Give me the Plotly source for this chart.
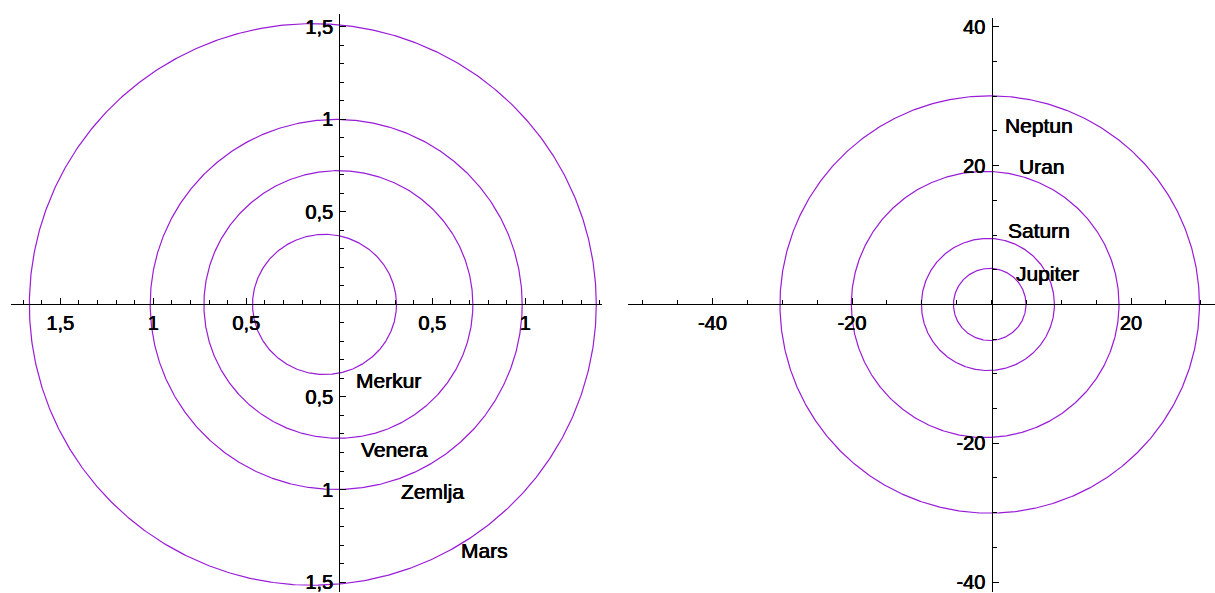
import numpy as np
import plotly.graph_objects as go

# Orbit data (semi-major axis in AU, eccentricity)
inner_names = ["Merkur", "Venera", "Zemlja", "Mars"]
inner_a = [0.387, 0.723, 1.000, 1.524]
inner_e = [0.2056, 0.0068, 0.0167, 0.0934]
inner_label_x = [0.263, 0.296, 0.500, 0.780]
inner_label_y = [-0.409, -0.782, -1.013, -1.328]

outer_names = ["Jupiter", "Saturn", "Uran", "Neptun"]
outer_a = [5.203, 9.537, 19.19, 30.07]
outer_e = [0.0484, 0.0539, 0.0473, 0.0086]
outer_label_x = [7.96, 6.88, 7.24, 6.81]
outer_label_y = [4.44, 10.6, 19.93, 25.8]

inner_tickvals = [-1.5, -1.0, -0.5, 0.5, 1.0, 1.5]
inner_ticktext = ["1,5", "1", "0,5", "0,5", "1", "1,5"]
outer_xtickvals = [-40, -20, 20]
outer_xticktext = ["-40", "-20", "20"]
outer_ytickvals = [-40, -20, 20, 40]
outer_yticktext = ["-40", "-20", "20", "40"]

W, H = 1215, 593
COL = "#9a1bd8"
FONT = "Liberation Sans, Arial, sans-serif"
FS_TICK = 20
FS_LABEL = 21
SHADOW = "0.35px 0 0 #000, -0.35px 0 0 #000"

fig = go.Figure()
t = np.linspace(0, 2 * np.pi, 721)


def orbit(a, e):
    b = a * np.sqrt(1 - e * e)
    return a * np.cos(t) - a * e, b * np.sin(t)


for a, e in zip(inner_a, inner_e):
    x, y = orbit(a, e)
    fig.add_trace(go.Scatter(x=x, y=y, mode="lines", line=dict(color=COL, width=1.2),
                             xaxis="x", yaxis="y", showlegend=False, hoverinfo="skip"))
for a, e in zip(outer_a, outer_e):
    x, y = orbit(a, e)
    fig.add_trace(go.Scatter(x=x, y=y, mode="lines", line=dict(color=COL, width=1.2),
                             xaxis="x2", yaxis="y2", showlegend=False, hoverinfo="skip"))

for n, lx, ly in zip(inner_names, inner_label_x, inner_label_y):
    fig.add_annotation(x=lx, y=ly, xref="x", yref="y", text=n, showarrow=False,
                       font=dict(family=FONT, size=FS_LABEL, color="black", shadow=SHADOW))
for n, lx, ly in zip(outer_names, outer_label_x, outer_label_y):
    fig.add_annotation(x=lx, y=ly, xref="x2", yref="y2", text=n, showarrow=False,
                       font=dict(family=FONT, size=FS_LABEL, color="black", shadow=SHADOW))

axis_y_px = 304.0
sc1 = 186.0
sc2 = 6.975
y0_left = 339.3
y0_right = 991.5

common = dict(showgrid=False, zeroline=False, showline=True, linecolor="black", linewidth=1.2,
              ticks="inside", ticklen=6, tickwidth=1, tickcolor="black",
              ticklabeloverflow="allow",
              tickfont=dict(family=FONT, size=FS_TICK, color="black", shadow=SHADOW),
              fixedrange=True)

xl0, xl1 = 11, 602
yl_top = 12
fig.update_layout(
    xaxis=dict(domain=[xl0 / W, xl1 / W],
               range=[(xl0 - y0_left) / sc1, (xl1 - y0_left) / sc1],
               anchor="free", position=(H - axis_y_px) / H,
               tickvals=inner_tickvals, ticktext=inner_ticktext,
               minor=dict(ticks="inside", dtick=0.1, tick0=0, ticklen=4, tickcolor="black"),
               **common),
    yaxis=dict(domain=[0, (H - yl_top) / H],
               range=[(axis_y_px - H) / sc1, (axis_y_px - yl_top) / sc1],
               anchor="free", position=y0_left / W, ticklabelstandoff=2,
               tickvals=inner_tickvals, ticktext=inner_ticktext,
               minor=dict(ticks="inside", dtick=0.1, tick0=0, ticklen=4, tickcolor="black"),
               **common),
)

xr0, xr1 = 628, 1215
yr_top = 16
fig.update_layout(
    xaxis2=dict(domain=[xr0 / W, xr1 / W],
                range=[(xr0 - y0_right) / sc2, (xr1 - y0_right) / sc2],
                anchor="free", position=(H - axis_y_px) / H,
                tickvals=outer_xtickvals, ticktext=outer_xticktext,
                minor=dict(ticks="inside", dtick=5, tick0=0, ticklen=4, tickcolor="black"),
                **common),
    yaxis2=dict(domain=[0, (H - yr_top) / H],
                range=[(axis_y_px - H) / sc2, (axis_y_px - yr_top) / sc2],
                anchor="free", position=y0_right / W, ticklabelstandoff=2,
                tickvals=outer_ytickvals, ticktext=outer_yticktext,
                minor=dict(ticks="inside", dtick=5, tick0=0, ticklen=4, tickcolor="black"),
                **common),
)

fig.update_layout(width=W, height=H, margin=dict(l=0, r=0, t=0, b=0),
                  paper_bgcolor="white", plot_bgcolor="white", showlegend=False)

fig.write_html("out.html", config={"displayModeBar": False},
               post_script="document.body.style.margin='0';document.body.style.overflow='hidden';")
